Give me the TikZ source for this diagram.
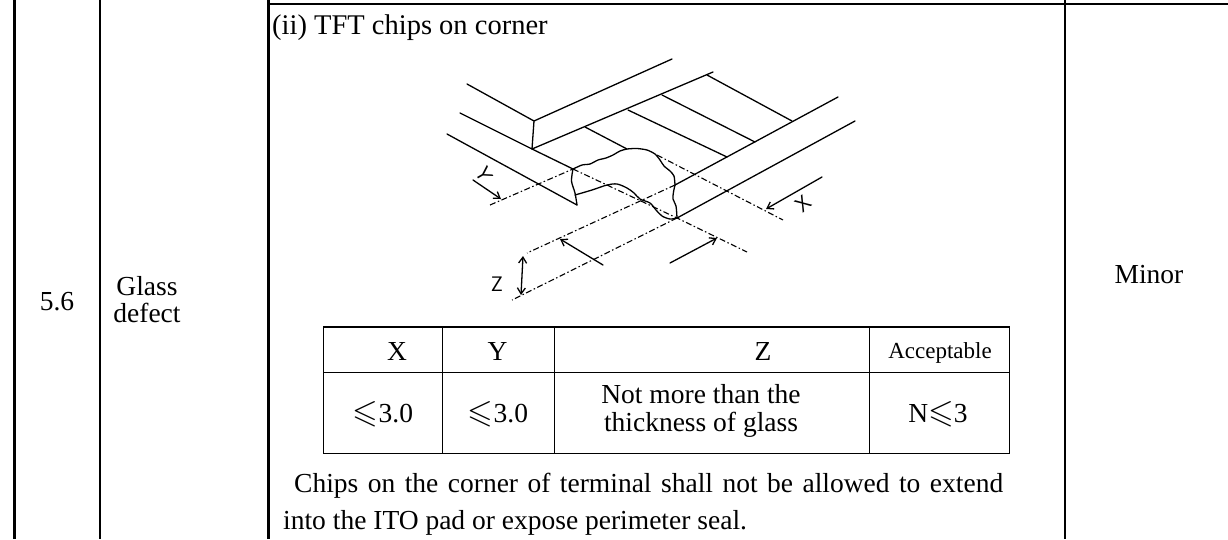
\documentclass[tikz,border=0pt]{standalone}
\usepackage{fontspec}
\setmainfont{Liberation Serif}
\usepackage{amssymb}
\usetikzlibrary{arrows.meta}
\newcommand{\bigleq}{{\fontsize{33}{33}\selectfont$\leqslant$}}
\begin{document}
\begin{tikzpicture}[x=1pt,y=-1pt,
  tbl/.style={line width=2.6pt},
  itbl/.style={line width=1.4pt},
  sk/.style={line width=1.3pt,line cap=round,line join=round},
  dd/.style={line width=1.1pt,dash pattern=on 6pt off 2.5pt on 1.5pt off 2.5pt},
  arr/.style={sk,-{Straight Barb[length=6pt,width=8pt]}},
  darr/.style={sk,{Straight Barb[length=6pt,width=8pt]}-{Straight Barb[length=6pt,width=8pt]}},
  txt/.style={font=\fontsize{27.5}{33}\selectfont,inner sep=0pt},
  small/.style={font=\fontsize{23}{27}\selectfont,inner sep=0pt},
  hand/.style={font=\fontsize{21}{21}\sffamily,inner sep=0pt}]
\useasboundingbox (0,0) rectangle (1228,539);
% ---- outer table ----
\draw[tbl] (14.5,0) -- (14.5,539);
\draw[tbl] (100,0) -- (100,539);
\draw[tbl] (268.3,0) -- (268.3,539);
\draw[tbl] (1065,0) -- (1065,539);
\draw[tbl] (267,3.8) -- (1228,3.8);
% ---- inner table ----
\draw[itbl] (323.7,327) rectangle (1009.3,453.6);
\draw[itbl] (323.7,372.7) -- (1009.3,372.7);
\foreach \x in {442.3,554.3,869.3} \draw[itbl] (\x,327) -- (\x,453.6);
% ---- texts ----
\node[txt,font=\fontsize{28.5}{33}\selectfont,anchor=base west] (title) at (272,34.3) {(ii) TFT chips on corner};
\node[txt,anchor=base] (num) at (57,310) {5.6};
\node[txt,anchor=base] (gl1) at (147,295) {Glass};
\node[txt,anchor=base] (gl2) at (147,322) {defect};
\node[txt,anchor=base] (minor) at (1149,283) {Minor};
\node[txt,anchor=base] (hX) at (397,360) {X};
\node[txt,anchor=base] (hY) at (497.5,360) {Y};
\node[txt,anchor=base] (hZ) at (763,360) {Z};
\node[small,anchor=base] (hA) at (940,358.3) {Acceptable};
\node[txt,anchor=base] (vX) at (383,422.7) {\bigleq3.0};
\node[txt,anchor=base] (vY) at (498,422.7) {\bigleq3.0};
\node[txt,anchor=base] (vZ1) at (701,403) {Not more than the};
\node[txt,anchor=base] (vZ2) at (701,431) {thickness of glass};
\node[txt,anchor=base] (vA) at (938,422.7) {N\bigleq3};
\node[txt,anchor=base west] (p1) at (294,492) {\makebox[709pt][s]{Chips on the corner of terminal shall not be allowed to extend}};
\node[txt,anchor=base west] (p2) at (283,529) {into the ITO pad or expose perimeter seal.};
% ---- sketch coordinates ----
\coordinate (sA) at (467,84);
\coordinate (sB) at (534,121);
\coordinate (sC) at (672,59);
\coordinate (sD) at (532,149);
\coordinate (sE) at (460,113);
\coordinate (cL) at (573,169);
\coordinate (sF) at (713,72);
\coordinate (bA) at (447,134);
\coordinate (cLB) at (577,205);
\coordinate (t1a) at (585,127); \coordinate (t1b) at (627,149);
\coordinate (t2a) at (628,110); \coordinate (t2b) at (727,157);
\coordinate (t3a) at (662,95);  \coordinate (t3b) at (755,142);
\coordinate (t4a) at (707,75);  \coordinate (t4b) at (792,121);
\coordinate (cR) at (675,185);  \coordinate (eR2) at (838,97);
\coordinate (cRB) at (677,218); \coordinate (eR3) at (855,121);
\coordinate (xE) at (747,252);
\coordinate (yS) at (490,205);
\coordinate (xS) at (657,155); \coordinate (xE2) at (783,220);
\coordinate (zU) at (527,253); \coordinate (zL) at (512,300);
\coordinate (ya1) at (473,180); \coordinate (ya2) at (501,199);
\coordinate (xa1) at (822,177); \coordinate (xa2) at (766,209);
\coordinate (za1) at (523,256); \coordinate (za2) at (521,295);
\coordinate (w1a) at (603,265); \coordinate (w1b) at (560,239);
\coordinate (w2a) at (670,263); \coordinate (w2b) at (717,238);
% ---- sketch: solid edges ----
\draw[sk] (sA) -- (sB) -- (sC);
\draw[sk] (sB) -- (sD);
\draw[sk] (sE) -- (sD) -- (cL);
\draw[sk] (sD) -- (sF);
\draw[sk] (bA) -- (cLB);
\draw[sk] (t1a) -- (t1b);
\draw[sk] (t2a) -- (t2b);
\draw[sk] (t3a) -- (t3b);
\draw[sk] (t4a) -- (t4b);
\draw[sk] (cR) -- (eR2);
\draw[sk] (cRB) -- (eR3);
% chip outline
\draw[sk] plot[smooth,tension=0.5] coordinates {(573,169) (571.5,181) (575,193) (577,205)};
\draw[sk] plot[smooth,tension=0.4] coordinates {(573,169) (582,165) (590,164) (598,160) (606,158) (613,155) (620,151) (627,149) (637,148.5) (647,150) (655,154) (660,160) (664,166) (670,171) (674,176) (675,185)};
\draw[sk] plot[smooth,tension=0.5] coordinates {(675,185) (673.5,192) (673,199) (676,206) (677,218)};
\draw[sk] plot[smooth,tension=0.5] coordinates {(575,195) (592,190) (607,185) (617,184) (627,188) (634,193) (640,199) (650,203) (656,210) (662,216) (670,219) (677,218)};
% ---- sketch: dash-dot lines ----
\draw[dd] (cL) -- (cRB) -- (xE);
\draw[dd] (yS) -- (cL);
\draw[dd] (xS) -- (xE2);
\draw[dd] (cR) -- (zU);
\draw[dd] (cRB) -- (zL);
% ---- dimension arrows ----
\draw[arr] (ya1) -- (ya2);
\draw[arr] (xa1) -- (xa2);
\draw[darr] (za1) -- (za2);
\draw[arr] (w1a) -- (w1b);
\draw[arr] (w2a) -- (w2b);
\node[hand,rotate=-60] (lY) at (484,175) {Y};
\node[hand,rotate=40] (lX) at (803,204) {X};
\node[hand] (lZ) at (497,284) {Z};
\end{tikzpicture}
\end{document}
